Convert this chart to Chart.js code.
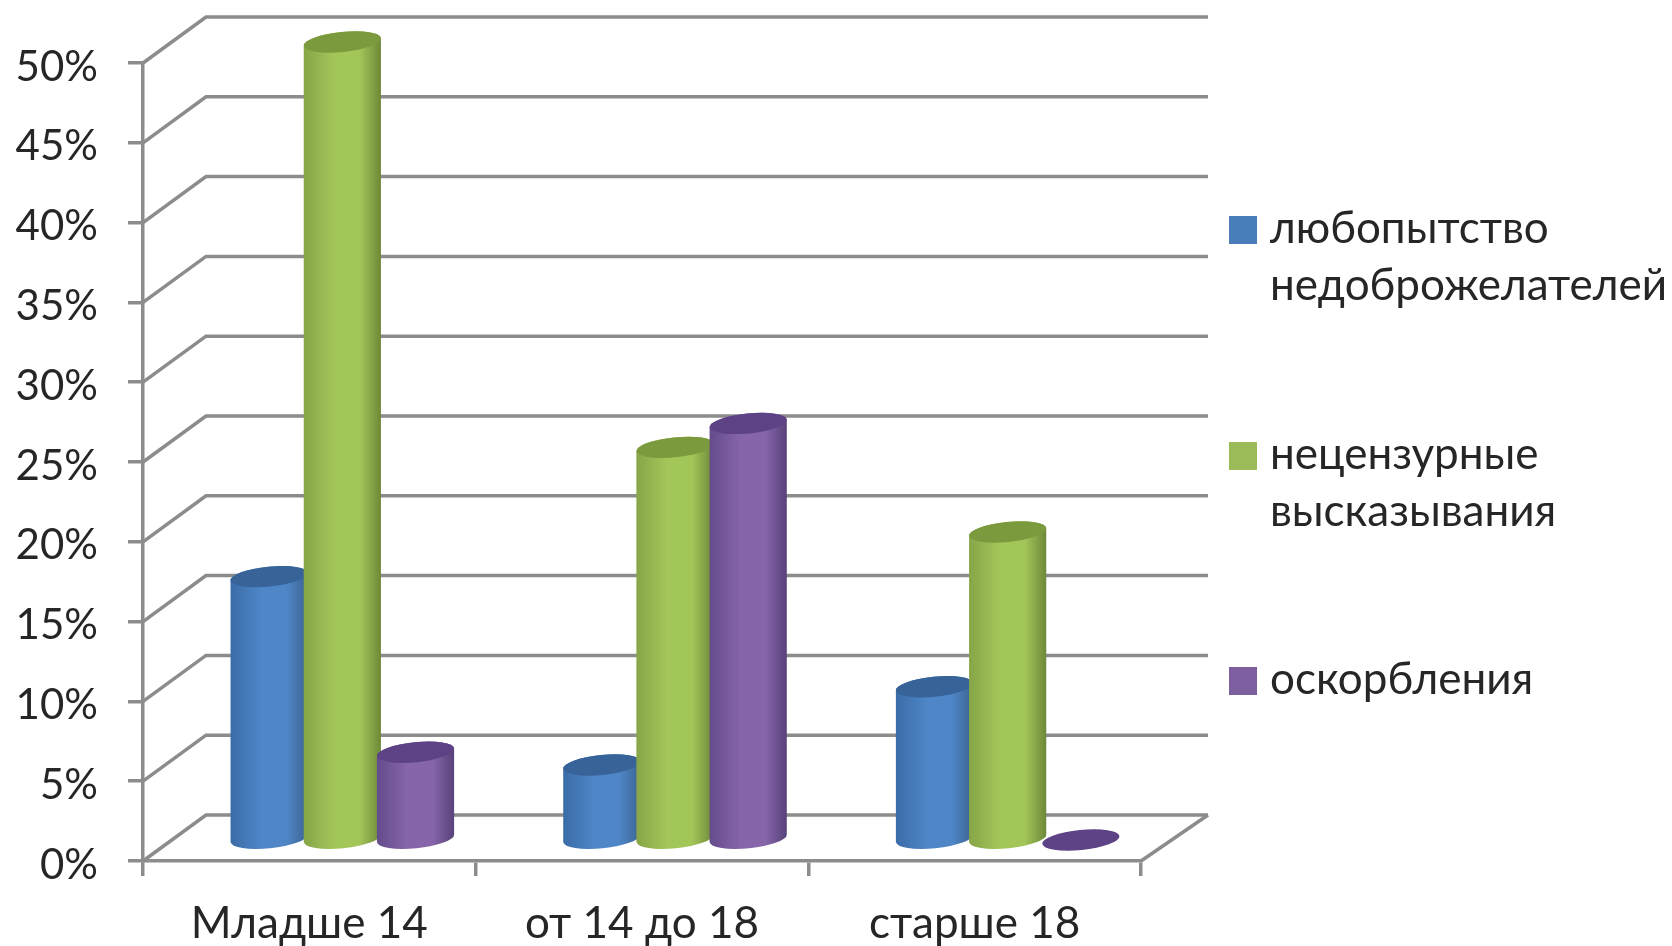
<!DOCTYPE html>
<html>
<head>
<meta charset="utf-8">
<script src="https://cdn.jsdelivr.net/npm/chart.js@4"></script>
<style>
  body { margin: 0; background: #fff; }
  canvas { display: block; }
</style>
</head>
<body>
<canvas id="grafico" width="1672" height="946"></canvas>
<script>
// datos
const categorias = ["Младше 14", "от 14 до 18", "старше 18"];
const lyubopytstvo = [16.5, 4.7, 9.6];
const necenzurnye = [50, 24.6, 19.3];
const oskorbleniya = [5.5, 26.1, 0];
const ticksY = [0, 5, 10, 15, 20, 25, 30, 35, 40, 45, 50];
const leyenda = [["любопытство", "недоброжелателей"], ["нецензурные", "высказывания"], ["оскорбления"]];

// colores: borde izq, centro, borde der, tapa
const colores = [
  ["#3a6ca6", "#4f86c8", "#3b6491", "#376399"],
  ["#86a548", "#a3c659", "#6d8838", "#7b9a3e"],
  ["#644b8a", "#8665aa", "#57427a", "#5d4286"],
];
const colorLeyenda = ["#4a7ebb", "#9bbb59", "#7d5fa0"];

const GRIS = "#8c8c8c";
const FUENTE = "Lato";
const FONDO_X = 63, FONDO_Y = 46; // profundidad de la caja 3D

// pared, piso y lineas de fondo
const cajaPlugin = {
  id: "caja",
  beforeDatasetsDraw(chart) {
    const { ctx, chartArea: a, scales: { y } } = chart;
    const derecha = a.right + FONDO_X + 4;
    ctx.save();
    ctx.strokeStyle = GRIS;
    ctx.lineWidth = 3.5;
    ticksY.forEach((v) => {
      const py = y.getPixelForValue(v);
      ctx.beginPath();
      ctx.moveTo(a.left, py);
      ctx.lineTo(a.left + FONDO_X, py - FONDO_Y);
      ctx.lineTo(derecha, py - FONDO_Y);
      ctx.stroke();
    });
    const py0 = y.getPixelForValue(0);
    ctx.beginPath();
    ctx.moveTo(derecha, py0 - FONDO_Y);
    ctx.lineTo(a.right, py0);
    ctx.stroke();
    ctx.restore();
  },
  // las barras se pintan aqui como cilindros, en orden azul, verde, morado
  beforeDatasetDraw() {
    return false;
  },
  afterDatasetsDraw(chart) {
    const { ctx } = chart;
    ctx.save();
    ctx.translate(33, -21);
    chart.data.datasets.forEach((ds, i) => {
      chart.getDatasetMeta(i).data.forEach((bar) => {
        cilindro(ctx, bar, colores[i]);
      });
    });
    ctx.restore();
  },
  afterDraw(chart) {
    const { ctx } = chart;
    ctx.save();
    ctx.font = "44px " + FUENTE;
    ctx.textBaseline = "middle";
    const tops = [216, 442, 667];
    leyenda.forEach((lineas, i) => {
      ctx.fillStyle = colorLeyenda[i];
      ctx.fillRect(1229, tops[i], 28, 28);
      ctx.fillStyle = "#262626";
      lineas.forEach((t, j) => ctx.fillText(t, 1270, tops[i] + 13 + j * 57));
    });
    ctx.restore();
  },
};

function cilindro(ctx, bar, c) {
  const { x, y, base, width } = bar.getProps(["x", "y", "base", "width"], true);
  const rx = width / 2, ry = 10, giro = -0.1;
  if (base - y > 0.5) {
    const g = ctx.createLinearGradient(x - rx, 0, x + rx, 0);
    g.addColorStop(0, c[0]);
    g.addColorStop(0.4, c[1]);
    g.addColorStop(0.72, c[1]);
    g.addColorStop(1, c[2]);
    ctx.fillStyle = g;
    ctx.beginPath();
    ctx.ellipse(x, base, rx, ry, giro, 0, Math.PI);
    ctx.ellipse(x, y, rx, ry, giro, Math.PI, 0);
    ctx.closePath();
    ctx.fill();
  }
  ctx.fillStyle = c[3];
  ctx.beginPath();
  ctx.ellipse(x, y, rx, ry, giro, 0, Math.PI * 2);
  ctx.fill();
}

new Chart(document.getElementById("grafico"), {
  type: "bar",
  data: {
    labels: categorias,
    datasets: [
      { label: leyenda[0].join(" "), data: lyubopytstvo, backgroundColor: colorLeyenda[0] },
      { label: leyenda[1].join(" "), data: necenzurnye, backgroundColor: colorLeyenda[1] },
      { label: leyenda[2].join(" "), data: oskorbleniya, backgroundColor: colorLeyenda[2] },
    ],
  },
  options: {
    responsive: false,
    animation: false,
    layout: { padding: { top: 63, right: 531 } },
    datasets: { bar: { categoryPercentage: 0.66, barPercentage: 1.06 } },
    plugins: { legend: { display: false }, tooltip: { enabled: false } },
    scales: {
      x: {
        afterFit: (s) => { s.height = 85; },
        border: { color: GRIS, width: 3.5 },
        grid: { color: GRIS, lineWidth: 3.5, drawOnChartArea: false, tickLength: 15, offset: true },
        ticks: { color: "#262626", font: { family: FUENTE, size: 44 }, padding: 21, maxRotation: 0 },
      },
      y: {
        min: 0,
        max: 50,
        afterFit: (s) => { s.width = 143; },
        afterBuildTicks: (s) => { s.ticks = ticksY.map((v) => ({ value: v })); },
        border: { color: GRIS, width: 3.5 },
        grid: { color: GRIS, lineWidth: 3.5, drawOnChartArea: false, tickLength: 15 },
        ticks: { color: "#262626", font: { family: FUENTE, size: 42 }, padding: 30, labelOffset: 4, callback: (v) => v + "%" },
      },
    },
  },
  plugins: [cajaPlugin],
});
</script>
</body>
</html>
